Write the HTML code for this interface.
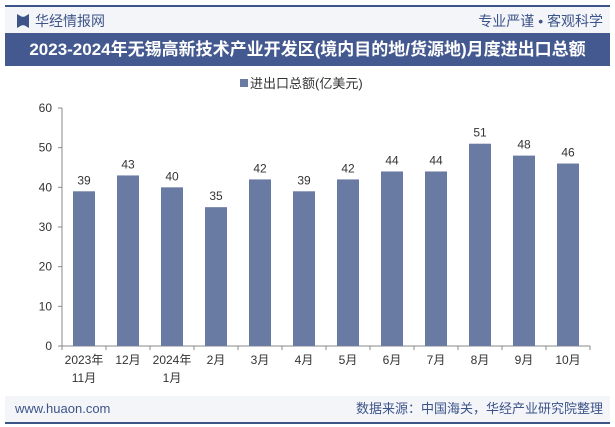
<!DOCTYPE html>
<html><head><meta charset="utf-8"><style>
body{margin:0;width:615px;height:427px;background:#fff;font-family:"Liberation Sans","Noto Sans CJK SC",sans-serif;position:relative;overflow:hidden}
div{position:absolute}
</style></head><body>
<div style="left:5px;top:5px;width:605px;height:2px;background:#3d5489"></div>
<div style="left:5px;top:7px;width:605px;height:26px;background:#f3f5f9"></div>
<div style="left:17px;top:14px;width:12px;height:14px;background:#3d5489;clip-path:polygon(0 0,40% 20%,60% 20%,100% 0,100% 100%,60% 80%,40% 80%,0 100%)"></div>
<div style="left:35px;top:11px;font-size:14px;color:#3d5489;line-height:20px">华经情报网</div>
<div style="right:12px;top:11px;font-size:14px;color:#3d5489;line-height:20px">专业严谨 • 客观科学</div>
<div style="left:5px;top:33px;width:605px;height:33px;background:#44598f;color:#fff;font-size:17px;font-weight:bold;line-height:33px;text-align:center">2023-2024年无锡高新技术产业开发区(境内目的地/货源地)月度进出口总额</div>
<div style="left:5px;top:396px;width:605px;height:26px;background:#f3f5f9"></div>
<div style="left:15px;top:400px;font-size:13px;color:#3d5489;line-height:18px">www.huaon.com</div>
<div style="right:12px;top:400px;font-size:13px;color:#3d5489;line-height:18px">数据来源：中国海关，华经产业研究院整理</div>
<div style="left:5px;top:422px;width:605px;height:2px;background:#3d5489"></div>
<svg width="615" height="427" style="position:absolute;left:0;top:0">
<g id="g"></g>
</svg>
<script>
const categories=["2023年\n11月","12月","2024年\n1月","2月","3月","4月","5月","6月","7月","8月","9月","10月"];
const values=[39,43,40,35,42,39,42,44,44,51,48,46];
const yTicks=[0,10,20,30,40,50,60];
const seriesName="进出口总额(亿美元)";
const NS="http://www.w3.org/2000/svg";
const g=document.getElementById('g');
const x0=62,x1=590,yb=346,yt=108,ymax=60;
const y=v=>yb-(v/ymax)*(yb-yt);
const band=(x1-x0)/categories.length;
const xc=i=>x0+band*(i+0.5);
function el(t,a,txt){const e=document.createElementNS(NS,t);for(const k in a)e.setAttribute(k,a[k]);if(txt!==undefined)e.textContent=txt;g.appendChild(e);return e;}
const ax=el('line',{x1:x0,x2:x1,y1:yb,y2:yb,stroke:'#888'});

const ay=el('line',{x1:x0,x2:x0,y1:yt,y2:yb,stroke:'#888'});

yTicks.forEach(t=>{
 const tk=el('line',{x1:x0-4,x2:x0,y1:y(t),y2:y(t),stroke:'#888'});
 
 const l=el('text',{x:x0-10,y:y(t)+4,'text-anchor':'end','font-size':12,fill:'#333'},t);
 
});
for(let i=0;i<=categories.length;i++){
 const tk=el('line',{x1:x0+band*i,x2:x0+band*i,y1:yb,y2:yb+4,stroke:'#888'});
 
}
const bw=22;
values.forEach((v,i)=>{
 const r=el('rect',{x:xc(i)-bw/2,y:y(v),width:bw,height:yb-y(v),fill:'#6a7ba3'});
 
 const t=el('text',{x:xc(i),y:y(v)-7,'text-anchor':'middle','font-size':12,fill:'#333'},v);
 
 categories[i].split('\n').forEach((s,k)=>{
  const c=el('text',{x:xc(i),y:yb+18+k*18,'text-anchor':'middle','font-size':12,fill:'#333'},s);
  
 });
});
const lg=el('rect',{x:240,y:79,width:8,height:8,fill:'#6a7ba3'});

const lt=el('text',{x:250,y:88,'font-size':13,fill:'#333'},seriesName);

</script>
</body></html>
